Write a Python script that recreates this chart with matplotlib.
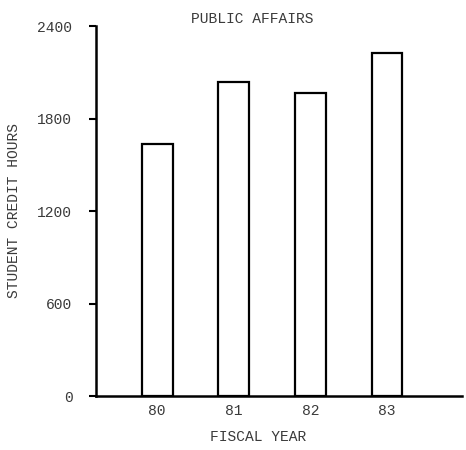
import matplotlib
matplotlib.use("Agg")
import matplotlib.pyplot as plt

# values
years = ["80", "81", "82", "83"]
credit_hours = [1635, 2037, 1965, 2225]
y_ticks = [0, 600, 1200, 1800, 2400]

plt.rcParams["font.family"] = ["Liberation Mono", "DejaVu Sans Mono"]
fs = 10.5
txt_color = "#3a3a3a"

fig = plt.figure(figsize=(4.66, 4.5), dpi=100)
ax = fig.add_axes([0.206, 0.12, 0.785, 0.822])

x = list(range(len(years)))
ax.bar(x, credit_hours, width=0.40, facecolor="white", edgecolor="black", linewidth=1.6)

ax.set_xlim(-0.80, 3.98)
ax.set_ylim(0, 2400)
ax.set_yticks(y_ticks)
ax.set_yticklabels([str(v) for v in y_ticks], fontsize=fs, color=txt_color)
ax.set_xticks(x)
ax.set_xticklabels(years, fontsize=fs, color=txt_color)
ax.tick_params(axis="x", length=0, pad=6)
ax.tick_params(axis="y", direction="out", length=5, width=1.5, pad=12)

for side in ("top", "right"):
    ax.spines[side].set_visible(False)
for side in ("left", "bottom"):
    ax.spines[side].set_linewidth(1.8)

fig.text(0.541, 0.958, "PUBLIC AFFAIRS", ha="center", va="center", fontsize=fs, color=txt_color)
fig.text(0.554, 0.029, "FISCAL YEAR", ha="center", va="center", fontsize=fs, color=txt_color)
fig.text(0.03, 0.533, "STUDENT CREDIT HOURS", ha="center", va="center", rotation=90,
         fontsize=fs, color=txt_color)

fig.savefig("out.png", dpi=100)
